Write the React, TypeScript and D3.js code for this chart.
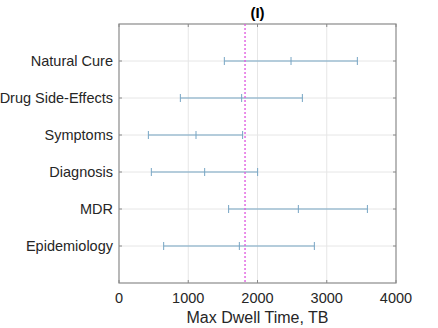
import { useEffect, useRef } from 'react';
import * as d3 from 'd3';

// topics, listed bottom to top (MATLAB style y = 1..6)
const topics = ['Epidemiology', 'MDR', 'Diagnosis', 'Symptoms', 'Drug Side-Effects', 'Natural Cure'];
const lowVals = [645, 1583, 467, 424, 886, 1521];
const midVals = [1738, 2590, 1237, 1112, 1771, 2484];
const highVals = [2821, 3587, 2002, 1785, 2648, 3442];
const xTicks = [0, 1000, 2000, 3000, 4000];
const refLine = 1820;

export default function App() {
  const svgRef = useRef<SVGSVGElement>(null);

  useEffect(() => {
    const svg = d3.select(svgRef.current);
    svg.selectAll('*').remove();

    const W = 438, H = 328;
    const m = { top: 24, right: 42, bottom: 45, left: 119 };
    const w = W - m.left - m.right;
    const h = H - m.top - m.bottom;
    const font = 'Liberation Sans, Arial, sans-serif';

    svg.append('rect').attr('width', W).attr('height', H).attr('fill', '#fff');

    const g = svg.append('g').attr('transform', `translate(${m.left},${m.top})`);

    const x = d3.scaleLinear().domain([0, 4000]).range([0, w]);
    const y = d3.scaleLinear().domain([0, 7]).range([h, 0]);

    const rows = topics.map((t, i) => ({ name: t, pos: i + 1, lo: lowVals[i], mid: midVals[i], hi: highVals[i] }));

    // grid
    g.selectAll('.vgrid').data(xTicks.slice(1, -1)).enter().append('line')
      .attr('x1', d => x(d)).attr('x2', d => x(d)).attr('y1', 0).attr('y2', h)
      .attr('stroke', '#e6e6e6').attr('stroke-width', 1);
    g.selectAll('.hgrid').data(rows).enter().append('line')
      .attr('x1', 0).attr('x2', w).attr('y1', d => y(d.pos)).attr('y2', d => y(d.pos))
      .attr('stroke', '#e6e6e6').attr('stroke-width', 1);

    // axes box with ticks on all sides
    g.append('rect').attr('width', w).attr('height', h)
      .attr('fill', 'none').attr('stroke', '#8a8a8a').attr('stroke-width', 1.2);

    const tl = 3;
    xTicks.forEach(t => {
      g.append('line').attr('x1', x(t)).attr('x2', x(t)).attr('y1', h).attr('y2', h - tl).attr('stroke', '#8a8a8a');
      g.append('line').attr('x1', x(t)).attr('x2', x(t)).attr('y1', 0).attr('y2', tl).attr('stroke', '#8a8a8a');
      g.append('text').attr('x', x(t)).attr('y', h + 20)
        .attr('text-anchor', 'middle').attr('font-family', font).attr('font-size', 14.5)
        .attr('fill', '#262626').text(t);
    });
    rows.forEach(r => {
      g.append('line').attr('x1', 0).attr('x2', tl).attr('y1', y(r.pos)).attr('y2', y(r.pos)).attr('stroke', '#8a8a8a');
      g.append('line').attr('x1', w).attr('x2', w - tl).attr('y1', y(r.pos)).attr('y2', y(r.pos)).attr('stroke', '#8a8a8a');
      g.append('text').attr('x', -6).attr('y', y(r.pos)).attr('dy', '0.35em')
        .attr('text-anchor', 'end').attr('font-family', font).attr('font-size', 14.5)
        .attr('fill', '#262626').text(r.name);
    });

    // error bars
    const col = '#76a5c4';
    const cap = 4;
    const bars = g.selectAll('.bar').data(rows).enter().append('g');
    bars.append('line')
      .attr('x1', d => x(d.lo)).attr('x2', d => x(d.hi))
      .attr('y1', d => y(d.pos)).attr('y2', d => y(d.pos))
      .attr('stroke', col).attr('stroke-width', 1.2);
    ['lo', 'mid', 'hi'].forEach(k => {
      bars.append('line')
        .attr('x1', d => x((d as any)[k])).attr('x2', d => x((d as any)[k]))
        .attr('y1', d => y(d.pos) - cap).attr('y2', d => y(d.pos) + cap)
        .attr('stroke', col).attr('stroke-width', 1);
    });

    // reference line
    g.append('line').attr('x1', x(refLine)).attr('x2', x(refLine)).attr('y1', 0).attr('y2', h)
      .attr('stroke', '#e060e0').attr('stroke-width', 1.4).attr('stroke-dasharray', '2,2');

    // title and x label
    svg.append('text').attr('x', m.left + w / 2).attr('y', 18)
      .attr('text-anchor', 'middle').attr('font-family', font).attr('font-size', 15)
      .attr('font-weight', 'bold').attr('fill', '#000').text('(I)');
    svg.append('text').attr('x', m.left + w / 2).attr('y', H - 5)
      .attr('text-anchor', 'middle').attr('font-family', font).attr('font-size', 16)
      .attr('fill', '#262626').text('Max Dwell Time, TB');
  }, []);

  return (
    <svg ref={svgRef} width={438} height={328}
      style={{ position: 'absolute', left: 0, top: 0, display: 'block' }} />
  );
}
